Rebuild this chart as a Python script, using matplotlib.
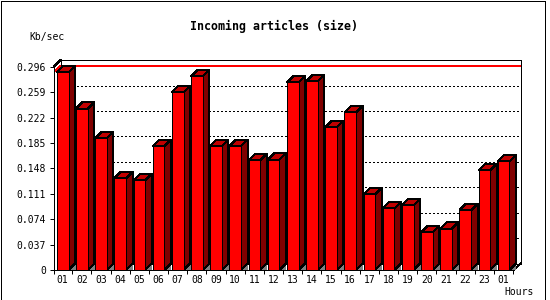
import numpy as np
import matplotlib.pyplot as plt
from matplotlib.patches import Polygon, Rectangle

hours = ['01', '02', '03', '04', '05', '06', '07', '08', '09', '10', '11', '12',
         '13', '14', '15', '16', '17', '18', '19', '20', '21', '22', '23', '01']
kb_sec = [0.288, 0.235, 0.192, 0.1335, 0.1305, 0.1805, 0.2587, 0.282,
          0.1805, 0.1805, 0.1597, 0.1606, 0.273, 0.2747, 0.2077, 0.2295,
          0.110, 0.0898, 0.0942, 0.0549, 0.0602, 0.0869, 0.1451, 0.1582]
yticks = [0, 0.037, 0.074, 0.111, 0.148, 0.185, 0.222, 0.259, 0.296]
ytick_labels = ['0', '0.037', '0.074', '0.111', '0.148', '0.185', '0.222', '0.259', '0.296']

W, H = 550, 300
n = len(kb_sec)
ymax = yticks[-1]
mono = 'DejaVu Sans Mono'
px = 0.72  # one pixel in points at dpi 100

fig = plt.figure(figsize=(W / 100, H / 100), dpi=100)
# front plot area: x 54..514 px, y 270 (0) .. 66.7 (ymax); plus depth room
ax = fig.add_axes([54 / W, 30 / H, 467 / W, 210 / H])
ux = n / 460.0          # data units per pixel (x)
uy = ymax / 203.3       # data units per pixel (y)
ddx, ddy = 6.5 * ux, 6.5 * uy
ax.set_xlim(0, 467 * ux)
ax.set_ylim(0, 210 * uy)
for s in ax.spines.values():
    s.set_visible(False)

# back plane frame
lk = dict(color='black', lw=px, clip_on=False, antialiased=False)
ax.plot([ddx, n + ddx], [ymax + ddy] * 2, **lk)
ax.plot([n + ddx] * 2, [ddy, ymax + ddy], **lk)
ax.plot([ddx] * 2, [ddy, ymax + ddy], **lk)
ax.plot([ddx, n + ddx], [ddy] * 2, **lk)
ax.plot([0, ddx], [ymax, ymax + ddy], **lk)
ax.plot([n, n + ddx], [0, ddy], **lk)

# dotted grid on the back plane
for v in yticks[1:-1]:
    ax.plot([ddx, n + ddx], [v + ddy] * 2, color='black', lw=px,
            linestyle=(0, (2, 2.5)), zorder=1, antialiased=False)

# max line
top = max(kb_sec)
ax.plot([0, ddx, n + ddx], [top, top + ddy, top + ddy], color='red', lw=px,
        zorder=1.5, antialiased=False)

# bars
bw = 0.61
pk = dict(closed=True, ec='black', lw=px, antialiased=False)
for i, v in enumerate(kb_sec):
    x0 = i + 0.15
    x1 = x0 + bw
    ax.add_patch(Polygon([(x1, 0), (x1 + ddx, ddy), (x1 + ddx, 0)],
                         closed=True, fc='#808080', ec='none', zorder=2, antialiased=False))
    ax.add_patch(Polygon([(x1, 0), (x1 + ddx, ddy), (x1 + ddx, v + ddy), (x1, v)],
                         fc='#800000', zorder=3, **pk))
    ax.add_patch(Polygon([(x0, v), (x1, v), (x1 + ddx, v + ddy), (x0 + ddx, v + ddy)],
                         fc='#c00000', zorder=3, **pk))
    ax.add_patch(Rectangle((x0, 0), bw, v, fc='#ff0000', ec='black', lw=px,
                           zorder=4, antialiased=False))

# front axes
ax.plot([0, 0], [0, ymax], zorder=5, **lk)
ax.plot([0, n], [0, 0], zorder=5, **lk)

ax.set_yticks(yticks, ytick_labels, fontsize=7, family=mono)
ax.tick_params(axis='y', length=4 * px, width=px, pad=4 * px)
ax.set_xticks([i + 0.15 + bw / 2 for i in range(n)], hours, fontsize=7, family=mono)
ax.set_xticks([0] + [i + 0.95 for i in range(n)], minor=True)
ax.tick_params(axis='x', which='major', length=0, pad=5 * px)
ax.tick_params(axis='x', which='minor', length=4 * px, width=px)

fig.text(274.5 / W, 1 - 26 / H, 'Incoming articles (size)', ha='center', va='center',
         fontsize=8.4, fontweight='bold', family=mono)
fig.text(29 / W, 1 - 37 / H, 'Kb/sec', ha='left', va='center', fontsize=7, family=mono)
fig.text(504 / W, 1 - 292 / H, 'Hours', ha='left', va='center', fontsize=7, family=mono)

fig.patches.append(Rectangle((0.5 / W, 0.5 / H), 544 / W, 298.5 / H, fill=False,
                             ec='black', lw=px, antialiased=False,
                             transform=fig.transFigure))

fig.savefig('out.png', dpi=100)
